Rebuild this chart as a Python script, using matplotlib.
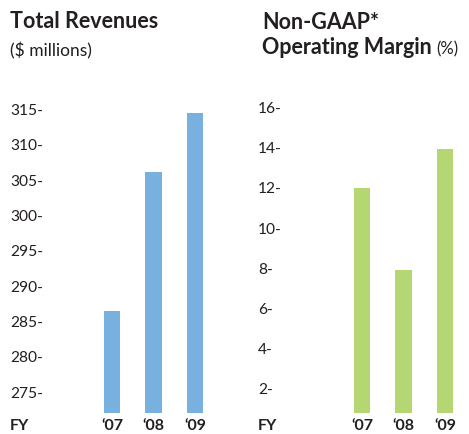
import numpy as np
import matplotlib.pyplot as plt

# Data
years = ["\u201807", "\u201808", "\u201809"]
revenues = [286.5, 306.2, 314.5]
rev_ticks = [275, 280, 285, 290, 295, 300, 305, 310, 315]
margin = [12.0, 7.9, 13.95]
margin_ticks = [2, 4, 6, 8, 10, 12, 14, 16]

W, H = 469, 434
plt.rcParams["font.family"] = ["Lato", "DejaVu Sans"]
text_color = "#231f20"
blue = "#78b0e0"
green = "#b4d673"

fig = plt.figure(figsize=(W / 100, H / 100), dpi=100)


def px_axes(left, right, top, bottom):
    return fig.add_axes([left / W, 1 - bottom / H, (right - left) / W, (bottom - top) / H])


def style(ax, ticks, pad):
    for s in ax.spines.values():
        s.set_visible(False)
    ax.set_yticks(ticks, [f"{t}-" for t in ticks])
    ax.tick_params(axis="y", length=0, pad=pad, labelsize=11.2, labelcolor=text_color)
    for lab in ax.get_yticklabels():
        lab.set_horizontalalignment("left")
    ax.set_xticks(np.arange(len(years)), years)
    ax.tick_params(axis="x", length=0, pad=4, labelsize=11.5, labelcolor=text_color)
    for lab in ax.get_xticklabels():
        lab.set_fontweight("bold")


# Total revenues
ax1 = px_axes(50, 230, 100, 413)
x = np.arange(len(years))
ax1.bar(x, revenues, width=0.386, color=blue, bottom=0)
ax1.set_xlim(-1.494, 2.843)
ax1.set_ylim(272.03, 316.36)
style(ax1, rev_ticks, 28.8)

# Non-GAAP operating margin
ax2 = px_axes(300, 469, 100, 413)
ax2.bar(x, margin, width=0.386, color=green)
ax2.set_xlim(-1.494, 2.578)
ax2.set_ylim(0.75, 16.4)
style(ax2, margin_ticks, 30.2)

# Titles
fig.text(10 / W, 1 - 28 / H, "Total Revenues", fontsize=15.5, fontweight="bold",
         color=text_color, va="baseline")
fig.text(10 / W, 1 - 56 / H, "($ millions)", fontsize=12.5, color=text_color, va="baseline")
fig.text(262 / W, 1 - 29 / H, "Non-GAAP*", fontsize=15.5, fontweight="bold",
         color=text_color, va="baseline")
t = fig.text(262 / W, 1 - 54 / H, "Operating Margin", fontsize=15.5, fontweight="bold",
             color=text_color, va="baseline")
fig.canvas.draw()
bb = t.get_window_extent()
fig.text((bb.x1 + 4) / W, 1 - 54 / H, "(%)", fontsize=12, color=text_color, va="baseline")

fig.text(10 / W, 1 - 430 / H, "FY", fontsize=11.5, fontweight="bold", color=text_color,
         va="baseline")
fig.text(258 / W, 1 - 430 / H, "FY", fontsize=11.5, fontweight="bold", color=text_color,
         va="baseline")

fig.savefig("out.png", dpi=100)
